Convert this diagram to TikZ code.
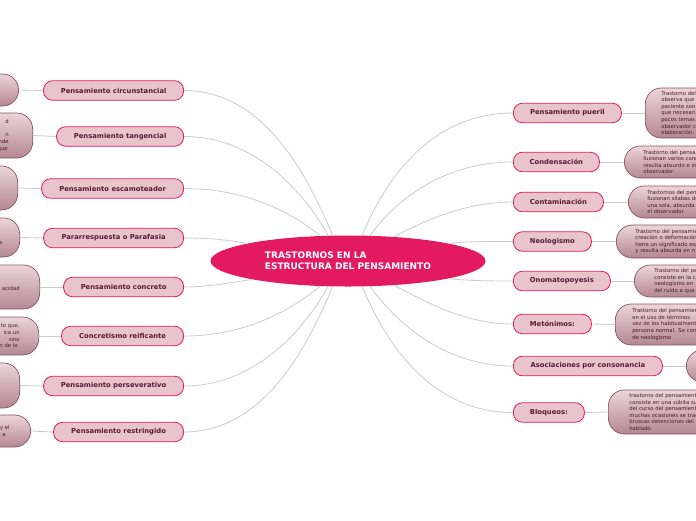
\documentclass[tikz,border=0pt]{standalone}
\usepackage{fontspec}
\setmainfont{DejaVu Sans}
\usetikzlibrary{shapes.geometric}
\definecolor{crim}{HTML}{E31A5F}
\definecolor{pillfill}{HTML}{E8C4CC}
\definecolor{pilltext}{HTML}{5B1A32}
\definecolor{bubtop}{HTML}{ECD5DA}
\definecolor{bubbot}{HTML}{B48792}
\definecolor{bubline}{HTML}{8A5565}
\definecolor{bubtext}{HTML}{4A1A2A}
\definecolor{linkgray}{HTML}{CCCCCC}
\begin{document}
\begin{tikzpicture}[x=1pt,y=-1pt,
  pill/.style={draw=crim, line width=0.8pt, fill=pillfill, rounded corners=9pt,
    minimum height=19.5pt, inner sep=0pt, text=pilltext,
    font=\bfseries\fontsize{6.8}{8}\selectfont},
  lbub/.style={draw=bubline, line width=0.7pt, top color=bubtop, bottom color=bubbot,
    rounded corners=16pt, inner ysep=0pt, text=bubtext, align=right, text width=100pt,
    font=\fontsize{5.3}{6.6}\selectfont},
  rbub/.style={draw=bubline, line width=0.7pt, top color=bubtop, bottom color=bubbot,
    rounded corners=16pt, inner ysep=0pt, text=bubtext, align=left, text width=150pt,
    font=\fontsize{5.3}{6.6}\selectfont},
  link/.style={draw=linkgray, line width=0.8pt}]
\useasboundingbox (0,0) rectangle (696,520);
\fill[white] (0,0) rectangle (696,520);
\clip (0,0) rectangle (696,520);

% centre
\node[ellipse, fill=crim, minimum width=275pt, minimum height=51pt, inner sep=0pt,
  text=white, align=left, font=\bfseries\fontsize{9}{11}\selectfont]
  (c) at (348,261) {TRASTORNOS EN LA\\ESTRUCTURA DEL PENSAMIENTO};

% left topics
\node[pill, anchor=east, minimum width=140pt] (l1) at (184,90.5) {Pensamiento circunstancial};
\node[pill, anchor=east, minimum width=127pt] (l2) at (184,136.5) {Pensamiento tangencial};
\node[pill, anchor=east, minimum width=142pt] (l3) at (184,188.5) {Pensamiento escamoteador};
\node[pill, anchor=east, minimum width=140pt] (l4) at (184,238) {Pararrespuesta o Parafasia};
\node[pill, anchor=east, minimum width=120pt] (l5) at (184,287) {Pensamiento concreto};
\node[pill, anchor=east, minimum width=122pt] (l6) at (184,336) {Concretismo reificante};
\node[pill, anchor=east, minimum width=140pt] (l7) at (184,386) {Pensamiento perseverativo};
\node[pill, anchor=east, minimum width=130pt] (l8) at (184,432) {Pensamiento restringido};

% left bubbles
\node[lbub, anchor=east, minimum height=32pt, inner xsep=20pt] (lb1) at (19,90) {};
\node[lbub, anchor=east, minimum height=45pt, inner xsep=24pt] (lb2) at (33,135.5)
  {d\hspace*{5.5pt}\\\mbox{}\\n\hspace*{6pt}\\nde\\que\hspace*{1pt}};
\node[lbub, anchor=east, minimum height=44pt, inner xsep=20pt] (lb3) at (18,188) {};
\node[lbub, anchor=east, minimum height=39pt, inner xsep=17pt] (lb4) at (20,237.5)
  {\mbox{}\\\mbox{}\\s};
\node[lbub, anchor=east, minimum height=44pt, inner xsep=20pt] (lb5) at (40,287)
  {\mbox{}\\\mbox{}\\acidad\\\mbox{}};
\node[lbub, anchor=east, minimum height=38pt, inner xsep=19pt] (lb6) at (39,336)
  {to que,\\ica un\hspace*{2pt}\\sino\hspace*{6pt}\\n de lo\hspace*{2pt}};
\node[lbub, anchor=east, minimum height=45pt, inner xsep=20pt] (lb7) at (20,385.5) {};
\node[lbub, anchor=east, minimum height=32pt, inner xsep=21pt] (lb8) at (31,431)
  {y el\\a\hspace*{4pt}};

% right topics
\node[pill, anchor=west, minimum width=108pt] (r1) at (513,113) {Pensamiento pueril};
\node[pill, anchor=west, minimum width=86pt] (r2) at (513,162) {Condensación};
\node[pill, anchor=west, minimum width=90pt] (r3) at (513,202) {Contaminación};
\node[pill, anchor=west, minimum width=78pt] (r4) at (513,241.5) {Neologismo};
\node[pill, anchor=west, minimum width=97pt] (r5) at (513,281) {Onomatopoyesis};
\node[pill, anchor=west, minimum width=78pt] (r6) at (513,324) {Metónimos:};
\node[pill, anchor=west, minimum width=149pt] (r7) at (513,366) {Asociaciones por consonancia};
\node[pill, anchor=west, minimum width=71pt] (r8) at (513,412.5) {Bloqueos:};

% right bubbles
\node[rbub, anchor=west, minimum height=50pt, inner xsep=16pt] (rb1) at (645,113)
  {Trastorno del\\observa que\\paciente son\\que necesariamente\\pocos temas\\observador c\\elaboración.};
\node[rbub, anchor=west, minimum height=32pt, inner xsep=19pt] (rb2) at (624,162)
  {Trastorno del pensamiento\\fusionan varios conceptos\\resulta absurdo e incomprensible\\observador.};
\node[rbub, anchor=west, minimum height=32pt, inner xsep=19pt] (rb3) at (628,202)
  {Trastornos del pensamiento\\fusionan sílabas de\\una sola, absurda\\el observador.};
\node[rbub, anchor=west, minimum height=33pt, inner xsep=19pt] (rb4) at (616,241.5)
  {Trastorno del pensamiento\\creación o deformación\\tiene un significado especial\\y resulta absurda en n};
\node[rbub, anchor=west, minimum height=32pt, inner xsep=20pt] (rb5) at (634,281)
  {Trastorno del pensamiento\\consiste en la creación\\neologismo en\\del ruido a que};
\node[rbub, anchor=west, minimum height=41pt, inner xsep=17pt] (rb6) at (615,324.5)
  {Trastorno del pensamiento\\en el uso de términos\\vez de los habitualmente\\persona normal. Se considera\\de neologismo};
\node[rbub, anchor=west, minimum height=32pt, inner xsep=17pt] (rb7) at (686,366) {};
\node[rbub, anchor=west, minimum height=44pt, inner xsep=21pt] (rb8) at (608,412)
  {trastorno del pensamiento\\consiste en una súbita suspensión\\del curso del pensamiento\\muchas ocasiones se traduce\\bruscas detenciones del\\hablado.};

% connectors centre -> topics (left)
\draw[link] (l1.east) .. controls +(80,0) and +(-25,-60) .. (c.121);
\draw[link] (l2.east) .. controls +(70,0) and +(-25,-45) .. (c.128);
\draw[link] (l3.east) .. controls +(60,0) and +(-30,-25) .. (c.138);
\draw[link] (l4.east) .. controls +(30,0) and +(-20,-3) .. (c.170);
\draw[link] (l5.east) .. controls +(30,0) and +(-20,2) .. (c.191);
\draw[link] (l6.east) .. controls +(60,0) and +(-30,25) .. (c.222);
\draw[link] (l7.east) .. controls +(70,0) and +(-25,45) .. (c.232);
\draw[link] (l8.east) .. controls +(80,0) and +(-25,60) .. (c.239);
% right
\draw[link] (r1.west) .. controls +(-80,0) and +(25,-60) .. (c.61);
\draw[link] (r2.west) .. controls +(-70,0) and +(25,-35) .. (c.49);
\draw[link] (r3.west) .. controls +(-50,0) and +(30,-15) .. (c.28);
\draw[link] (r4.west) .. controls +(-25,0) and +(20,-2) .. (c.10);
\draw[link] (r5.west) .. controls +(-25,0) and +(20,2) .. (c.-10);
\draw[link] (r6.west) .. controls +(-50,0) and +(30,15) .. (c.-28);
\draw[link] (r7.west) .. controls +(-70,0) and +(25,35) .. (c.-49);
\draw[link] (r8.west) .. controls +(-80,0) and +(25,60) .. (c.-61);

% topic -> bubble
\foreach \i in {1,...,8} {\draw[link] (lb\i.east) -- (l\i.west);}
\foreach \i in {1,...,8} {\draw[link] (r\i.east) -- (rb\i.west);}
\end{tikzpicture}
\end{document}
